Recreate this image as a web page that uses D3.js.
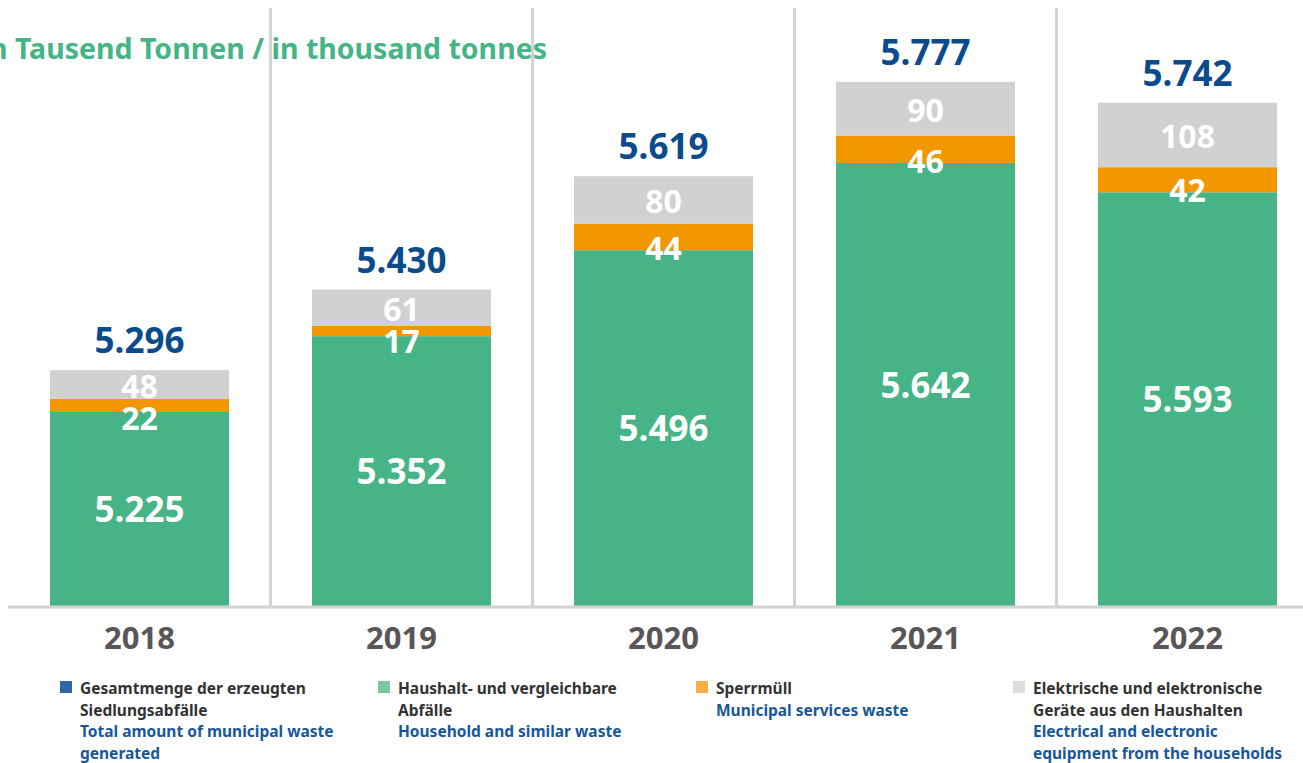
<!DOCTYPE html>
<html>
<head>
<meta charset="utf-8">
<script src="https://cdn.jsdelivr.net/npm/d3@7"></script>
<style>
  body { margin: 0; background: #fff; }
  svg { display: block; font-family: "Noto Sans", sans-serif; }
</style>
</head>
<body>
<div id="chart"></div>
<script>
// data (thousand tonnes)
var years = ["2018", "2019", "2020", "2021", "2022"];
var household = [5225, 5352, 5496, 5642, 5593];
var bulky = [22, 17, 44, 46, 42];
var electrical = [48, 61, 80, 90, 108];
var totals = [5296, 5430, 5619, 5777, 5742];

var legendDe = [
  ["Gesamtmenge der erzeugten", "Siedlungsabfälle"],
  ["Haushalt- und vergleichbare", "Abfälle"],
  ["Sperrmüll"],
  ["Elektrische und elektronische", "Geräte aus den Haushalten"]
];
var legendEn = [
  ["Total amount of municipal waste", "generated"],
  ["Household and similar waste"],
  ["Municipal services waste"],
  ["Electrical and electronic", "equipment from the households"]
];

var svgWidth = 1303;
var svgHeight = 763;
var baseY = 606;

var colors = { household: "#46b487", bulky: "#f39700", electrical: "#d1d1d1" };
var legendColors = ["#2d65a5", "#7cc6a2", "#fbad45", "#dddddd"];

var de = d3.formatLocale({ decimal: ",", thousands: ".", grouping: [3], currency: ["", "€"] });
var fmt = de.format(",d");

var rows = years.map(function(y, i) {
  return { year: y, household: household[i], bulky: bulky[i], electrical: electrical[i], total: totals[i] };
});

var svg = d3.select("#chart")
  .append("svg")
  .attr("width", svgWidth)
  .attr("height", svgHeight);

var x = d3.scaleBand()
  .domain(years)
  .range([8.5, 1318.5])
  .paddingInner(0.3168)
  .paddingOuter(0.1584);

// value axis does not start at zero
var y = d3.scaleLinear()
  .domain([4900, 5900])
  .range([baseY, 9]);
var yMin = y.domain()[0];

var stack = d3.stack().keys(["household", "bulky", "electrical"]);
var series = stack(rows);

// title (cut at the left edge like the source)
svg.append("text")
  .attr("x", 547)
  .attr("y", 59)
  .attr("text-anchor", "end")
  .attr("font-size", 28.5)
  .attr("font-weight", "bold")
  .attr("fill", "#46b487")
  .text("in Tausend Tonnen / in thousand tonnes");

// separators between years
var step = x.step();
svg.append("g")
  .selectAll("line")
  .data(years.slice(1))
  .enter()
  .append("line")
  .attr("x1", d => x(d) - (step - x.bandwidth()) / 2)
  .attr("x2", d => x(d) - (step - x.bandwidth()) / 2)
  .attr("y1", y(5900) - 1)
  .attr("y2", baseY)
  .attr("stroke", "#d3d3d3")
  .attr("stroke-width", 3);

// stacked bars
svg.append("g")
  .selectAll("g")
  .data(series)
  .enter()
  .append("g")
  .attr("fill", d => colors[d.key])
  .selectAll("rect")
  .data(d => d)
  .enter()
  .append("rect")
  .attr("x", d => x(d.data.year))
  .attr("width", x.bandwidth())
  .attr("y", d => y(d[1]))
  .attr("height", d => y(Math.max(d[0], yMin)) - y(d[1]));

// base line
svg.append("line")
  .attr("x1", 8)
  .attr("x2", svgWidth)
  .attr("y1", baseY + 1)
  .attr("y2", baseY + 1)
  .attr("stroke", "#d3d3d3")
  .attr("stroke-width", 3);

var cx = d => x(d.year) + x.bandwidth() / 2;
var labels = svg.append("g")
  .attr("text-anchor", "middle")
  .attr("font-weight", "bold");

// household label, centre of green block
labels.selectAll(".lab-h")
  .data(rows)
  .enter()
  .append("text")
  .attr("x", cx)
  .attr("y", d => (y(yMin) + y(d.household)) / 2 + 13)
  .attr("font-size", 35)
  .attr("fill", "#fff")
  .text(d => fmt(d.household));

// electrical label, centre of grey block
function greyBase(d) {
  return (y(d.household + d.bulky) + y(d.household + d.bulky + d.electrical)) / 2 + 13;
}
labels.selectAll(".lab-e")
  .data(rows)
  .enter()
  .append("text")
  .attr("x", cx)
  .attr("y", greyBase)
  .attr("font-size", 32)
  .attr("fill", "#fff")
  .text(d => fmt(d.electrical));

// bulky waste label, just under the orange block
labels.selectAll(".lab-b")
  .data(rows)
  .enter()
  .append("text")
  .attr("x", cx)
  .attr("y", d => Math.max(y(d.household) + 10, greyBase(d) + 32))
  .attr("font-size", 32)
  .attr("fill", "#fff")
  .text(d => fmt(d.bulky));

// totals above the bars
labels.selectAll(".lab-t")
  .data(rows)
  .enter()
  .append("text")
  .attr("x", cx)
  .attr("y", d => y(d.household + d.bulky + d.electrical) - 17)
  .attr("font-size", 35)
  .attr("fill", "#0b4a8b")
  .text(d => fmt(d.total));

// year labels
labels.selectAll(".lab-y")
  .data(rows)
  .enter()
  .append("text")
  .attr("x", cx)
  .attr("y", 649)
  .attr("font-size", 31)
  .attr("fill", "#5a5657")
  .text(d => d.year);

// legend
var legendX = [80, 398, 716, 1033];
var legend = svg.append("g")
  .selectAll("g")
  .data(legendDe)
  .enter()
  .append("g")
  .attr("transform", (d, i) => `translate(${legendX[i]}, 0)`);

legend.append("rect")
  .attr("x", -20)
  .attr("y", 681)
  .attr("width", 12)
  .attr("height", 12)
  .attr("fill", (d, i) => legendColors[i]);

legend.each(function(d, i) {
  var g = d3.select(this);
  var lines = d.map(t => ({ t: t, c: "#333333" }))
    .concat(legendEn[i].map(t => ({ t: t, c: "#17579a" })));
  g.selectAll("text")
    .data(lines)
    .enter()
    .append("text")
    .attr("x", 0)
    .attr("y", (l, j) => 694 + j * 21.5)
    .attr("font-size", 15.5)
    .attr("font-weight", "bold")
    .attr("fill", l => l.c)
    .text(l => l.t);
});
</script>
</body>
</html>
